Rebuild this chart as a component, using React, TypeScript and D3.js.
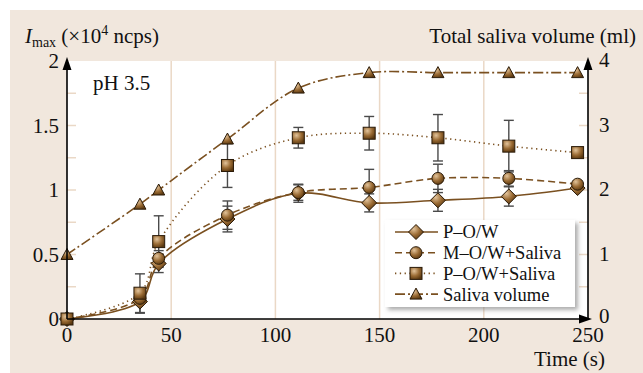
import React from "react";
import * as d3 from "d3";

const times = [0, 35, 44, 77, 111, 145, 178, 212, 245];
const pow = [0, 0.135, 0.43, 0.775, 0.975, 0.9, 0.92, 0.95, 1.015];
const powErr = [0, 0.09, 0.07, 0.1, 0.07, 0.07, 0.085, 0.075, 0];
const mowSaliva = [0, 0.16, 0.47, 0.805, 0.98, 1.02, 1.09, 1.09, 1.045];
const mowSalivaErr = [0, 0, 0.06, 0.11, 0.06, 0.14, 0.11, 0.06, 0];
const powSaliva = [0, 0.2, 0.6, 1.19, 1.405, 1.44, 1.405, 1.34, 1.29];
const powSalivaErr = [0, 0.15, 0.2, 0.17, 0.08, 0.13, 0.18, 0.2, 0];
const salivaVolume = [1.0, 1.78, 2.0, 2.79, 3.58, 3.82, 3.82, 3.82, 3.82];

const xTicks = [0, 50, 100, 150, 200, 250];
const xGrid = [50, 100, 150, 200];
const yLeftTicks = [0, 0.5, 1, 1.5, 2];
const yLeftTickLabels = ["0", "0.5", "1", "1.5", "2"];
const yMinorTicks = [0.25, 0.5, 0.75, 1, 1.25, 1.5, 1.75];
const yRightTicks = [0, 1, 2, 3, 4];
const legendLabels = ["P\u2013O/W", "M\u2013O/W+Saliva", "P\u2013O/W+Saliva", "Saliva volume"];

const W = 643;
const H = 373;
const X0 = 67, X1 = 588, Y0 = 319, Y1 = 61;
const FONT = "'Liberation Serif', 'Times New Roman', serif";
const LINE = "#7a5020";
const BEIGE = "#f1e7dd";
const GRID = "#ead8c6";

const x = d3.scaleLinear().domain([0, 250]).range([X0, X1]);
const yL = d3.scaleLinear().domain([0, 2]).range([Y0, Y1]);
const yR = d3.scaleLinear().domain([0, 4]).range([Y0, Y1]);

type MarkerKind = "diamond" | "circle" | "square" | "triangle";

function Marker({ kind, cx, cy }: { kind: MarkerKind; cx: number; cy: number }) {
  const common = { fill: "url(#mgrad)", stroke: "#2a1a08", strokeWidth: 1 };
  if (kind === "diamond") {
    const r = 7.5;
    return <path d={`M${cx},${cy - r}L${cx + r},${cy}L${cx},${cy + r}L${cx - r},${cy}Z`} {...common} />;
  }
  if (kind === "circle") return <circle cx={cx} cy={cy} r={6} {...common} />;
  if (kind === "square") return <rect x={cx - 6} y={cy - 6} width={12} height={12} {...common} />;
  return <path d={`M${cx},${cy - 6}L${cx + 6},${cy + 5}L${cx - 6},${cy + 5}Z`} {...common} />;
}

const series: { vals: number[]; err: number[]; kind: MarkerKind; dash: string; right: boolean; width: number }[] = [
  { vals: pow, err: powErr, kind: "diamond", dash: "none", right: false, width: 1.6 },
  { vals: mowSaliva, err: mowSalivaErr, kind: "circle", dash: "7,4", right: false, width: 1.6 },
  { vals: powSaliva, err: powSalivaErr, kind: "square", dash: "1.3,3.5", right: false, width: 1.6 },
  { vals: salivaVolume, err: salivaVolume.map(() => 0), kind: "triangle", dash: "10,3,2,3", right: true, width: 1.6 },
];

export default function App() {
  const line = (vals: number[], right: boolean) =>
    d3
      .line<number>()
      .x((_, i) => x(times[i]))
      .y((v) => (right ? yR(v) : yL(v)))
      .curve(d3.curveCatmullRom.alpha(0.5))(vals) || "";

  return (
    <svg width={W} height={H} style={{ position: "absolute", left: 0, top: 0 }} fontFamily={FONT}>
      <defs>
        <radialGradient id="mgrad" cx="0.35" cy="0.3" r="0.75">
          <stop offset="0" stopColor="#e2c39a" />
          <stop offset="0.55" stopColor="#9a6b34" />
          <stop offset="1" stopColor="#5a3810" />
        </radialGradient>
        <filter id="shadow" x="-10%" y="-10%" width="130%" height="140%">
          <feDropShadow dx="3" dy="3" stdDeviation="2" floodColor="#777" floodOpacity="0.6" />
        </filter>
      </defs>
      <rect x={0} y={0} width={W} height={H} fill="#fff" />
      <rect x={10} y={10} width={W - 10} height={H - 10} fill={BEIGE} />
      <rect x={X0} y={Y1} width={X1 - X0} height={Y0 - Y1} fill="#fff" />

      {xGrid.map((t) => (
        <line key={t} x1={x(t)} x2={x(t)} y1={Y1} y2={Y0} stroke={GRID} strokeWidth={1.5} />
      ))}
      {yMinorTicks.map((t) => (
        <g key={t}>
          <line x1={X0} x2={X0 + 9} y1={yL(t)} y2={yL(t)} stroke={GRID} strokeWidth={1.5} />
          <line x1={X1 - 9} x2={X1} y1={yL(t)} y2={yL(t)} stroke={GRID} strokeWidth={1.5} />
        </g>
      ))}

      {series.map((s, i) => (
        <path key={i} d={line(s.vals, s.right)} fill="none" stroke={LINE} strokeWidth={s.width} strokeDasharray={s.dash} />
      ))}

      {series.map((s, si) =>
        s.vals.map((v, i) => {
          const e = s.err[i];
          if (!e) return null;
          const cx = x(times[i]);
          const yt = yL(v + e);
          const yb = yL(v - e);
          return (
            <g key={`${si}-${i}`} stroke="#4a4a4a" strokeWidth={1.4}>
              <line x1={cx} x2={cx} y1={yt} y2={yb} />
              <line x1={cx - 5} x2={cx + 5} y1={yt} y2={yt} />
              <line x1={cx - 5} x2={cx + 5} y1={yb} y2={yb} />
            </g>
          );
        })
      )}

      {series.map((s, si) =>
        s.vals.map((v, i) => (
          <Marker key={`${si}-${i}`} kind={s.kind} cx={x(times[i])} cy={s.right ? yR(v) : yL(v)} />
        ))
      )}

      <g stroke="#000" strokeWidth={1.6}>
        <line x1={X0} x2={X0} y1={Y0} y2={Y1 + 6} />
        <line x1={X0} x2={X1 - 4} y1={Y0} y2={Y0} />
        <line x1={X1} x2={X1} y1={Y0} y2={Y1 + 6} />
      </g>
      <path d={`M${X0},${Y1 - 4}L${X0 + 4.5},${Y1 + 9}L${X0 - 4.5},${Y1 + 9}Z`} fill="#000" />
      <path d={`M${X1},${Y1 - 4}L${X1 + 4.5},${Y1 + 9}L${X1 - 4.5},${Y1 + 9}Z`} fill="#000" />
      <path d={`M${X1 + 4},${Y0}L${X1 - 9},${Y0 - 4.5}L${X1 - 9},${Y0 + 4.5}Z`} fill="#000" />

      <g fontSize={21} fill="#111">
        {yLeftTicks.map((t, i) => (
          <text key={t} x={X0 - 8} y={yL(t)} dy="0.35em" textAnchor="end">
            {yLeftTickLabels[i]}
          </text>
        ))}
        {yRightTicks.map((t) => (
          <text key={t} x={X1 + 11} y={yR(t) - (t === 0 ? 2 : 0)} dy="0.3em" textAnchor="start">
            {t}
          </text>
        ))}
        {xTicks.map((t) => (
          <text key={t} x={x(t)} y={Y0 + 16} dy="0.35em" textAnchor="middle">
            {t}
          </text>
        ))}
        <text x={605} y={366} textAnchor="end">Time (s)</text>
        <text x={636} y={43} textAnchor="end">Total saliva volume (ml)</text>
        <text x={25} y={43}>
          <tspan fontStyle="italic">I</tspan>
          <tspan fontSize={14} dy={4}>max</tspan>
          <tspan dy={-4}> (×10</tspan>
          <tspan fontSize={14} dy={-8}>4</tspan>
          <tspan dy={8}> ncps)</tspan>
        </text>
        <text x={93} y={90}>pH 3.5</text>
      </g>

      <rect x={385} y={220} width={190} height={87} fill="#fff" filter="url(#shadow)" />
      {series.map((s, i) => {
        const cy = 232 + i * 20.7;
        return (
          <g key={i}>
            <line x1={395} x2={438} y1={cy} y2={cy} stroke={LINE} strokeWidth={1.6} strokeDasharray={s.dash} />
            <Marker kind={s.kind} cx={416} cy={cy} />
            <text x={443} y={cy} dy="0.35em" fontSize={18.5} fill="#111">
              {legendLabels[i]}
            </text>
          </g>
        );
      })}
    </svg>
  );
}
